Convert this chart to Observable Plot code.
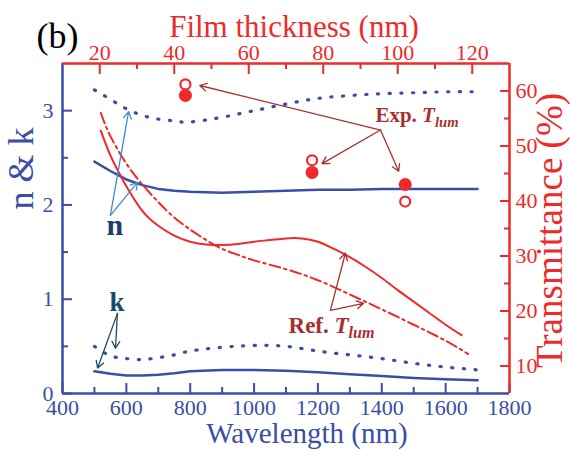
<!DOCTYPE html>
<html><head><meta charset="utf-8">
<script src="https://cdn.jsdelivr.net/npm/d3@7"></script>
<script src="https://cdn.jsdelivr.net/npm/@observablehq/plot@0.6"></script>
<style>body{margin:0;background:#fff} svg{display:block}</style>
</head><body><div id="chart"></div>
<script>
// ---- data ----
const nkWavelength = [500,550,600,650,700,750,800,900,1000,1100,1200,1300,1400,1500,1600,1700];
const nSolid  = [2.46,2.36,2.27,2.21,2.17,2.15,2.14,2.13,2.14,2.15,2.16,2.16,2.17,2.17,2.17,2.17];
const nDotted = [3.22,3.12,3.02,2.95,2.91,2.89,2.88,2.93,3.00,3.07,3.13,3.16,3.18,3.19,3.20,3.20];
const kSolid  = [0.235,0.21,0.19,0.19,0.20,0.215,0.235,0.25,0.25,0.24,0.225,0.205,0.185,0.165,0.15,0.14];
const kDotted = [0.50,0.40,0.37,0.36,0.38,0.41,0.45,0.49,0.51,0.50,0.45,0.41,0.37,0.32,0.28,0.25];

const refSolidWavelength = [520,550,580,600,650,700,750,800,850,900,950,1000,1050,1100,1150,1200,1250,1300,1350,1400,1450,1500,1550,1600,1650];
const refSolidT = [52.8,48.3,44.8,42.7,38.2,35.5,33.7,32.6,32.1,32.0,32.2,32.6,32.9,33.2,33.2,32.6,31.3,29.8,28.0,26.0,23.8,21.7,19.6,17.5,15.6];
const refDashWavelength = [520,550,600,650,700,750,800,850,900,950,1000,1100,1200,1300,1400,1500,1600,1670];
const refDashT = [56.0,51.8,46.8,43.0,39.8,37.0,34.8,32.9,31.3,30.2,29.2,27.6,25.6,23.0,20.3,17.5,14.6,12.2];

const expThickness = [43, 77, 102];
const expFilledT = [59.2, 45.2, 43.0];
const expOpenT   = [61.2, 47.4, 39.9];

// tick values
const bottomMajor = [400,600,800,1000,1200,1400,1600,1800];
const bottomMinor = [500,700,900,1100,1300,1500,1700];
const leftMajor = [0,1,2,3];
const leftMinor = [0.5,1.5,2.5];
const rightMajor = [10,20,30,40,50,60];
const rightMinor = [15,25,35,45,55];
const topMajor = [20,40,60,80,100,120];
const topMinor = [30,50,70,90,110];

// annotation arrows [x1,y1,x2,y2]
const nArrows = [[550,1.89,607,2.99],[550,1.89,635,2.24]];          // n & k units
const kArrows = [[572,0.85,510,0.27],[572,0.85,566,0.48]];
const expArrows = [[1396,52.9,830,61.0],[1396,52.9,1213,46.8],[1396,52.9,1453,45.4]]; // T units
const refArrows = [[1239,20.1,1286,30.5],[1239,20.1,1343,21.4]];

// ---- secondary-axis mappings onto the primary scales ----
const Tmin = 5, Tmax = 65, Ymax = 3.5;
const T2y = t => (t - Tmin) / (Tmax - Tmin) * Ymax;
const y2T = y => y / Ymax * (Tmax - Tmin) + Tmin;
const thMin = 10, thMax = 130, Wmin = 400, Wmax = 1800;
const th2x = t => Wmin + (t - thMin) / (thMax - thMin) * (Wmax - Wmin);
const x2th = x => (x - Wmin) / (Wmax - Wmin) * (thMax - thMin) + thMin;

const nk = nkWavelength.map((w,i) => ({w, n: nSolid[i], nd: nDotted[i], k: kSolid[i], kd: kDotted[i]}));
const refSolid = refSolidWavelength.map((w,i) => ({w, t: T2y(refSolidT[i])}));
const refDash = refDashWavelength.map((w,i) => ({w, t: T2y(refDashT[i])}));
const expPts = expThickness.map((th,i) => ({x: th2x(th), f: T2y(expFilledT[i]), o: T2y(expOpenT[i])}));
const toT = a => a.map(([x1,y1,x2,y2]) => [x1,T2y(y1),x2,T2y(y2)]);

const blue = "#3a4ea6", red = "#ee2a2a", darkRed = "#a8302f";
const serif = "'Liberation Serif', 'Times New Roman', serif";
const dotted = "1.2,10.5";

const arrow = (data, stroke) => Plot.arrow(data, {x1: d=>d[0], y1: d=>d[1], x2: d=>d[2], y2: d=>d[3], stroke, strokeWidth: 1.3, headLength: 9});

const chart = Plot.plot({
  width: 570, height: 450,
  marginLeft: 62, marginRight: 61, marginTop: 63, marginBottom: 57,
  style: {fontFamily: serif, background: "white"},
  x: {domain: [Wmin, Wmax], label: null},
  y: {domain: [0, Ymax], label: null},
  marks: [
    // curves
    Plot.line(nk, {x: "w", y: "n", stroke: blue, strokeWidth: 2.5}),
    Plot.line(nk, {x: "w", y: "nd", stroke: blue, strokeWidth: 3.2, strokeDasharray: dotted, curve: "natural"}),
    Plot.line(nk, {x: "w", y: "k", stroke: blue, strokeWidth: 2.5}),
    Plot.line(nk, {x: "w", y: "kd", stroke: blue, strokeWidth: 3.2, strokeDasharray: dotted, curve: "natural"}),
    Plot.line(refSolid, {x: "w", y: "t", stroke: red, strokeWidth: 2, curve: "natural"}),
    Plot.line(refDash, {x: "w", y: "t", stroke: red, strokeWidth: 2, strokeDasharray: "11,4,2.5,4", curve: "natural"}),
    Plot.dot(expPts, {x: "x", y: "o", r: 5, fill: "white", stroke: red, strokeWidth: 2.2}),
    Plot.dot(expPts, {x: "x", y: "f", r: 6.5, fill: red}),
    // annotations
    arrow(nArrows, "#3a8ed2"),
    arrow(kArrows, "#1e4d5e"),
    arrow(toT(expArrows), darkRed),
    arrow(toT(refArrows), darkRed),
    Plot.text(["n"], {x: 564, y: 1.676, lineAnchor: "bottom", fontSize: 30, fontWeight: "bold", fill: "#1b3d70"}),
    Plot.text(["k"], {x: 571, y: 0.88, lineAnchor: "bottom", fontSize: 27, fontWeight: "bold", fill: "#1b4a6a"}),
    Plot.text(["Exp. T_lum"], {x: 1380, y: T2y(54.3), textAnchor: "start", lineAnchor: "bottom", fontSize: 21, fontWeight: "bold", fill: darkRed}),
    Plot.text(["Ref. T_lum"], {x: 1108, y: T2y(16.0), textAnchor: "start", lineAnchor: "bottom", fontSize: 23, fontWeight: "bold", fill: darkRed}),
    // axis tick labels
    Plot.axisX(bottomMajor, {anchor: "bottom", tickSize: 0, tickPadding: 6, fontSize: 22, color: blue, label: null, tickFormat: d => String(d)}),
    Plot.axisY(leftMajor, {anchor: "left", tickSize: 0, tickPadding: 9, fontSize: 22, color: blue, label: null, tickFormat: d => String(d)}),
    Plot.axisY(rightMajor.map(T2y), {anchor: "right", tickSize: 0, tickPadding: 6, fontSize: 22, color: red, label: null, tickFormat: d => String(Math.round(y2T(d)))}),
    Plot.axisX(topMajor.map(th2x), {anchor: "top", tickSize: 0, tickPadding: 4, fontSize: 22, color: red, label: null, tickFormat: d => String(Math.round(x2th(d)))}),
    // inward ticks
    Plot.axisX(bottomMajor, {anchor: "bottom", tickSize: -10, text: null, stroke: blue, strokeWidth: 2, label: null}),
    Plot.axisX(bottomMinor, {anchor: "bottom", tickSize: -6, text: null, stroke: blue, strokeWidth: 2, label: null}),
    Plot.axisY(leftMajor, {anchor: "left", tickSize: -10, text: null, stroke: blue, strokeWidth: 2, label: null}),
    Plot.axisY(leftMinor, {anchor: "left", tickSize: -6, text: null, stroke: blue, strokeWidth: 2, label: null}),
    Plot.axisY(rightMajor.map(T2y), {anchor: "right", tickSize: -10, text: null, stroke: red, strokeWidth: 2, label: null}),
    Plot.axisY(rightMinor.map(T2y), {anchor: "right", tickSize: -6, text: null, stroke: red, strokeWidth: 2, label: null}),
    Plot.axisX(topMajor.map(th2x), {anchor: "top", tickSize: -10, text: null, stroke: red, strokeWidth: 2, label: null}),
    Plot.axisX(topMinor.map(th2x), {anchor: "top", tickSize: -5, text: null, stroke: red, strokeWidth: 2, label: null}),
    // frame sides
    Plot.ruleX([Wmin], {stroke: blue, strokeWidth: 2.5}),
    Plot.ruleY([0], {stroke: blue, strokeWidth: 2.5}),
    Plot.ruleX([Wmax], {stroke: red, strokeWidth: 2.5}),
    Plot.ruleY([Ymax], {stroke: red, strokeWidth: 2.5}),
    // axis titles
    Plot.text(["Wavelength (nm)"], {frameAnchor: "bottom", dx: 21, dy: 49, lineAnchor: "bottom", fontSize: 29, fill: blue}),
    Plot.text(["Film thickness (nm)"], {frameAnchor: "top", dx: 8, dy: -27, lineAnchor: "bottom", fontSize: 31, fill: red}),
    Plot.text(["n & k"], {frameAnchor: "left", dx: -41, dy: -60, rotate: -90, textAnchor: "middle", fontSize: 36, fill: blue}),
    Plot.text(["Transmittance (%)"], {frameAnchor: "right", dx: 41, dy: 2, rotate: -90, textAnchor: "middle", fontSize: 37, fill: red}),
    Plot.text(["(b)"], {frameAnchor: "top-left", dx: -26, dy: -16, textAnchor: "start", lineAnchor: "bottom", fontSize: 36, fill: "black"})
  ]
});

// rich text for T_lum labels
const ns = "http://www.w3.org/2000/svg";
chart.querySelectorAll("text").forEach(t => {
  const s = t.textContent;
  if (s.endsWith(" T_lum")) {
    t.textContent = s.slice(0, -5);
    const a = document.createElementNS(ns, "tspan");
    a.setAttribute("font-style", "italic"); a.textContent = "T";
    const b = document.createElementNS(ns, "tspan");
    b.setAttribute("font-style", "italic"); b.setAttribute("font-size", "0.7em"); b.setAttribute("dy", "0.3em");
    b.textContent = "lum";
    t.append(a, b);
  }
});
document.getElementById("chart").append(chart);
</script>
</body></html>
